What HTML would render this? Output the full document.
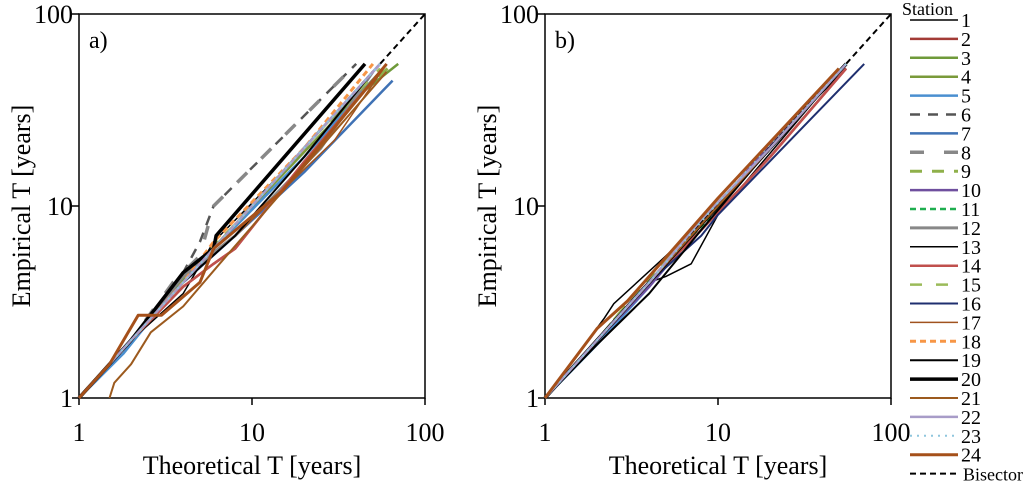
<!DOCTYPE html>
<html><head><meta charset="utf-8"><style>
body{margin:0;background:#fff;}
svg text{font-family:"Liberation Serif",serif;fill:#000;}
</style></head><body>
<svg id="chart" width="1024" height="487" viewBox="0 0 1024 487" xmlns="http://www.w3.org/2000/svg"></svg>
<script>
const stations=["1","2","3","4","5","6","7","8","9","10","11","12","13","14","15","16","17","18","19","20","21","22","23","24"];
const colors=["#000","#a33b36","#6f9a3a","#7a9a3a","#4a8fd0","#555","#3f72b5","#888","#8fb04a","#6f4f9e","#1fae4f","#888","#000","#c0504d","#9bbb59","#1f2f6f","#a0521e","#f79646","#000","#000","#9c5a1e","#a89cc8","#8fc6dd","#a5501a"];
const widths=[1.5,2.5,2.5,2.5,2.5,2.5,2.5,3.5,3,2.5,2.5,3,1.5,2.5,2.5,2,1.5,3,2,3.5,2,2.5,2,3];
const dashes=["","","","","","10,8","","14,20","12,10","","6,4","","","","12,14","","","6,4","","","","","2,5",""];
// Panel a: theoretical T values and empirical T values per station
const aT=[[1,2,4,7,20,45],[1,2,4,6,8,20,55],[1,2,3.5,8,30,70],[1,2,4,8,30,55],[1,1.8,3,6,20,55],[1,2,4,5,6,40],[1,2,4,8,20,65],[1,2,3.5,5,6,40],[1,2,3.5,8,25,65],[1,2,4,8,25,55],[1,2,4,7,25,50],[1,2,4,8,25,50],[1,2,4,6,15,50],[1,2,4,6,8,20,55],[1,2,3,8,25,55],[1,2,4,8,25,55],[1,2,4,8,30,60],[1,2,4,6,20,50],[1,2,4,8,20,50],[1,2,4,6,6.2,45],[1.5,1.6,2,2.6,4,6.5,60],[1,2,4,8,25,55],[1,2,4,8,25,55],[1,1.5,2.2,3,5,6,15,60]];
const aE=[[1,2,4,7,20,45],[1,2,3.8,5,6,17,50],[1,2,3.6,8,30,55],[1,2,4,8,28,50],[1,1.7,3,6,18,50],[1,2,4.5,6.5,10,55],[1,2,4,7,15,45],[1,2,4,5.5,10,55],[1,2,3.8,8,25,55],[1,2,4,8,25,55],[1,2,4,7,25,50],[1,2,4.3,7,20,50],[1,2,3.5,6.5,15,50],[1,2,3.8,5,6,17,50],[1,2,3,8,25,52],[1,2,4,8,25,55],[1,2,4,7,22,55],[1,2,4,6.5,20,55],[1,2,4,7,18,50],[1,2,4.5,6,7,55],[1,1.2,1.5,2.2,3,5,50],[1,2,4,8,25,55],[1,2,4,8,25,55],[1,1.5,2.7,2.7,4,6,12,55]];
// Panel b
const bT=[[1,2,4,5,7,10,50],[1,2,4,8,20,55],[1,2,4,8,20,55],[1,2,4,8,20,55],[1,2,4,8,20,55],[1,2,4,8,20,55],[1,2,4,8,20,55],[1,2,4,8,20,55],[1,2,4,8,20,55],[1,2,4,8,20,55],[1,2,4,8,20,55],[1,2,4,8,20,55],[1,2.2,2.5,5,10,30,55],[1,2,4,8,20,55],[1,2,4,8,20,55],[1,2,4,8,10,70],[1,2,4,8,20,55],[1,2,4,8,20,55],[1,2,4,8,20,55],[1,2,4,8,20,55],[1,2,4,8,20,55],[1,2,4,8,20,55],[1,2,4,8,20,55],[1,2,3,6,10,50]];
const bE=[[1,2,4,4.3,5,9,50],[1,2,4,7.5,18,52],[1,2,4,8,20,55],[1,2,4,8,20,55],[1,1.9,3.8,8,20,55],[1,2,4,8,20,55],[1,2,4,8,20,55],[1,2,4,8,20,55],[1,2,4.2,8.2,20,55],[1,2,3.8,8,21,55],[1,2,4,7.7,20,55],[1,2,4,8,20,55],[1,2.6,3.1,5.5,10,30,52],[1,2,4,7.5,18,52],[1,2,4.3,8,20,55],[1,2,4,7,9,55],[1,2,4,8,20,55],[1,2,4,8,20,55],[1,1.9,3.5,7.5,20,55],[1,2,4,8,20,55],[1,2,4,8,20,55],[1,2,4,8.5,20,55],[1,2,4,8.3,21,55],[1,2.3,3.2,6.5,11,52]];
const xTicks=["1","10","100"];const yTicks=["1","10","100"];
const svg=document.getElementById('chart');const NS='http://www.w3.org/2000/svg';
function mk(t,a,p){const e=document.createElementNS(NS,t);for(const k in a)e.setAttribute(k,a[k]);(p||svg).appendChild(e);return e;}
function panel(x0,lab,Ts,Es,tag){
 const x1=x0+346,y0=398,y1=14,dec=(x1-x0)/2,ydec=(y0-y1)/2;
 const X=v=>x0+Math.log10(v)*dec,Y=v=>y0-Math.log10(v)*ydec;
 const g=mk('g',{});
 const fr=mk('rect',{x:x0,y:y1,width:x1-x0,height:y0-y1,fill:'none',stroke:'#000','stroke-width':1.5},g);
 
 xTicks.forEach((t,i)=>{const v=+t;mk('line',{x1:X(v),x2:X(v),y1:y0,y2:y0+7,stroke:'#000','stroke-width':1.5},g);
  const tx=mk('text',{x:X(v),y:y0+43,'font-size':26,'text-anchor':'middle'},g);tx.textContent=t;
  });
 yTicks.forEach(t=>{const v=+t;mk('line',{x1:x0-7,x2:x0,y1:Y(v),y2:Y(v),stroke:'#000','stroke-width':1.5},g);
  const tx=mk('text',{x:x0-6,y:Y(v)+9,'font-size':26,'text-anchor':'end'},g);tx.textContent=t;
  });
 const pl=mk('text',{x:x0+10,y:48,'font-size':24},g);pl.textContent=lab;
 
 const xt=mk('text',{x:(x0+x1)/2,y:474,'font-size':26,'text-anchor':'middle'},g);xt.textContent='Theoretical T [years]';
 
 const yt=mk('text',{x:0,y:0,'font-size':26,'text-anchor':'middle',transform:`translate(${x0-49},${(y0+y1)/2}) rotate(-90)`},g);yt.textContent='Empirical T [years]';
 
 const bis=mk('line',{x1:X(1),y1:Y(1),x2:X(100),y2:Y(100),stroke:'#000','stroke-width':2,'stroke-dasharray':'6,4'},g);
 
 stations.forEach((s,i)=>{const pts=Ts[i].map((t,j)=>X(t).toFixed(1)+','+Y(Es[i][j]).toFixed(1)).join(' ');
  const p=mk('polyline',{points:pts,fill:'none',stroke:colors[i],'stroke-width':widths[i],'stroke-dasharray':dashes[i],'stroke-linejoin':'round'},g);
  });
}
panel(79,'a)',aT,aE,'a');panel(545,'b)',bT,bE,'b');
const lg=mk('g',{});
const lt=mk('text',{x:902,y:15,'font-size':18},lg);lt.textContent='Station';

stations.concat(['Bisector']).forEach((s,i)=>{const y=20+i*18.9;
 const e=mk('g',{},lg);
 const bis=s==='Bisector';
 mk('line',{x1:910,x2:958,y1:y,y2:y,stroke:bis?'#000':colors[i],'stroke-width':bis?2:widths[i],'stroke-dasharray':bis?'6,4':dashes[i]},e);
 const t=mk('text',{x:bis?963:961,y:y+7,'font-size':bis?18:20},e);t.textContent=s;});
</script>
</body></html>
